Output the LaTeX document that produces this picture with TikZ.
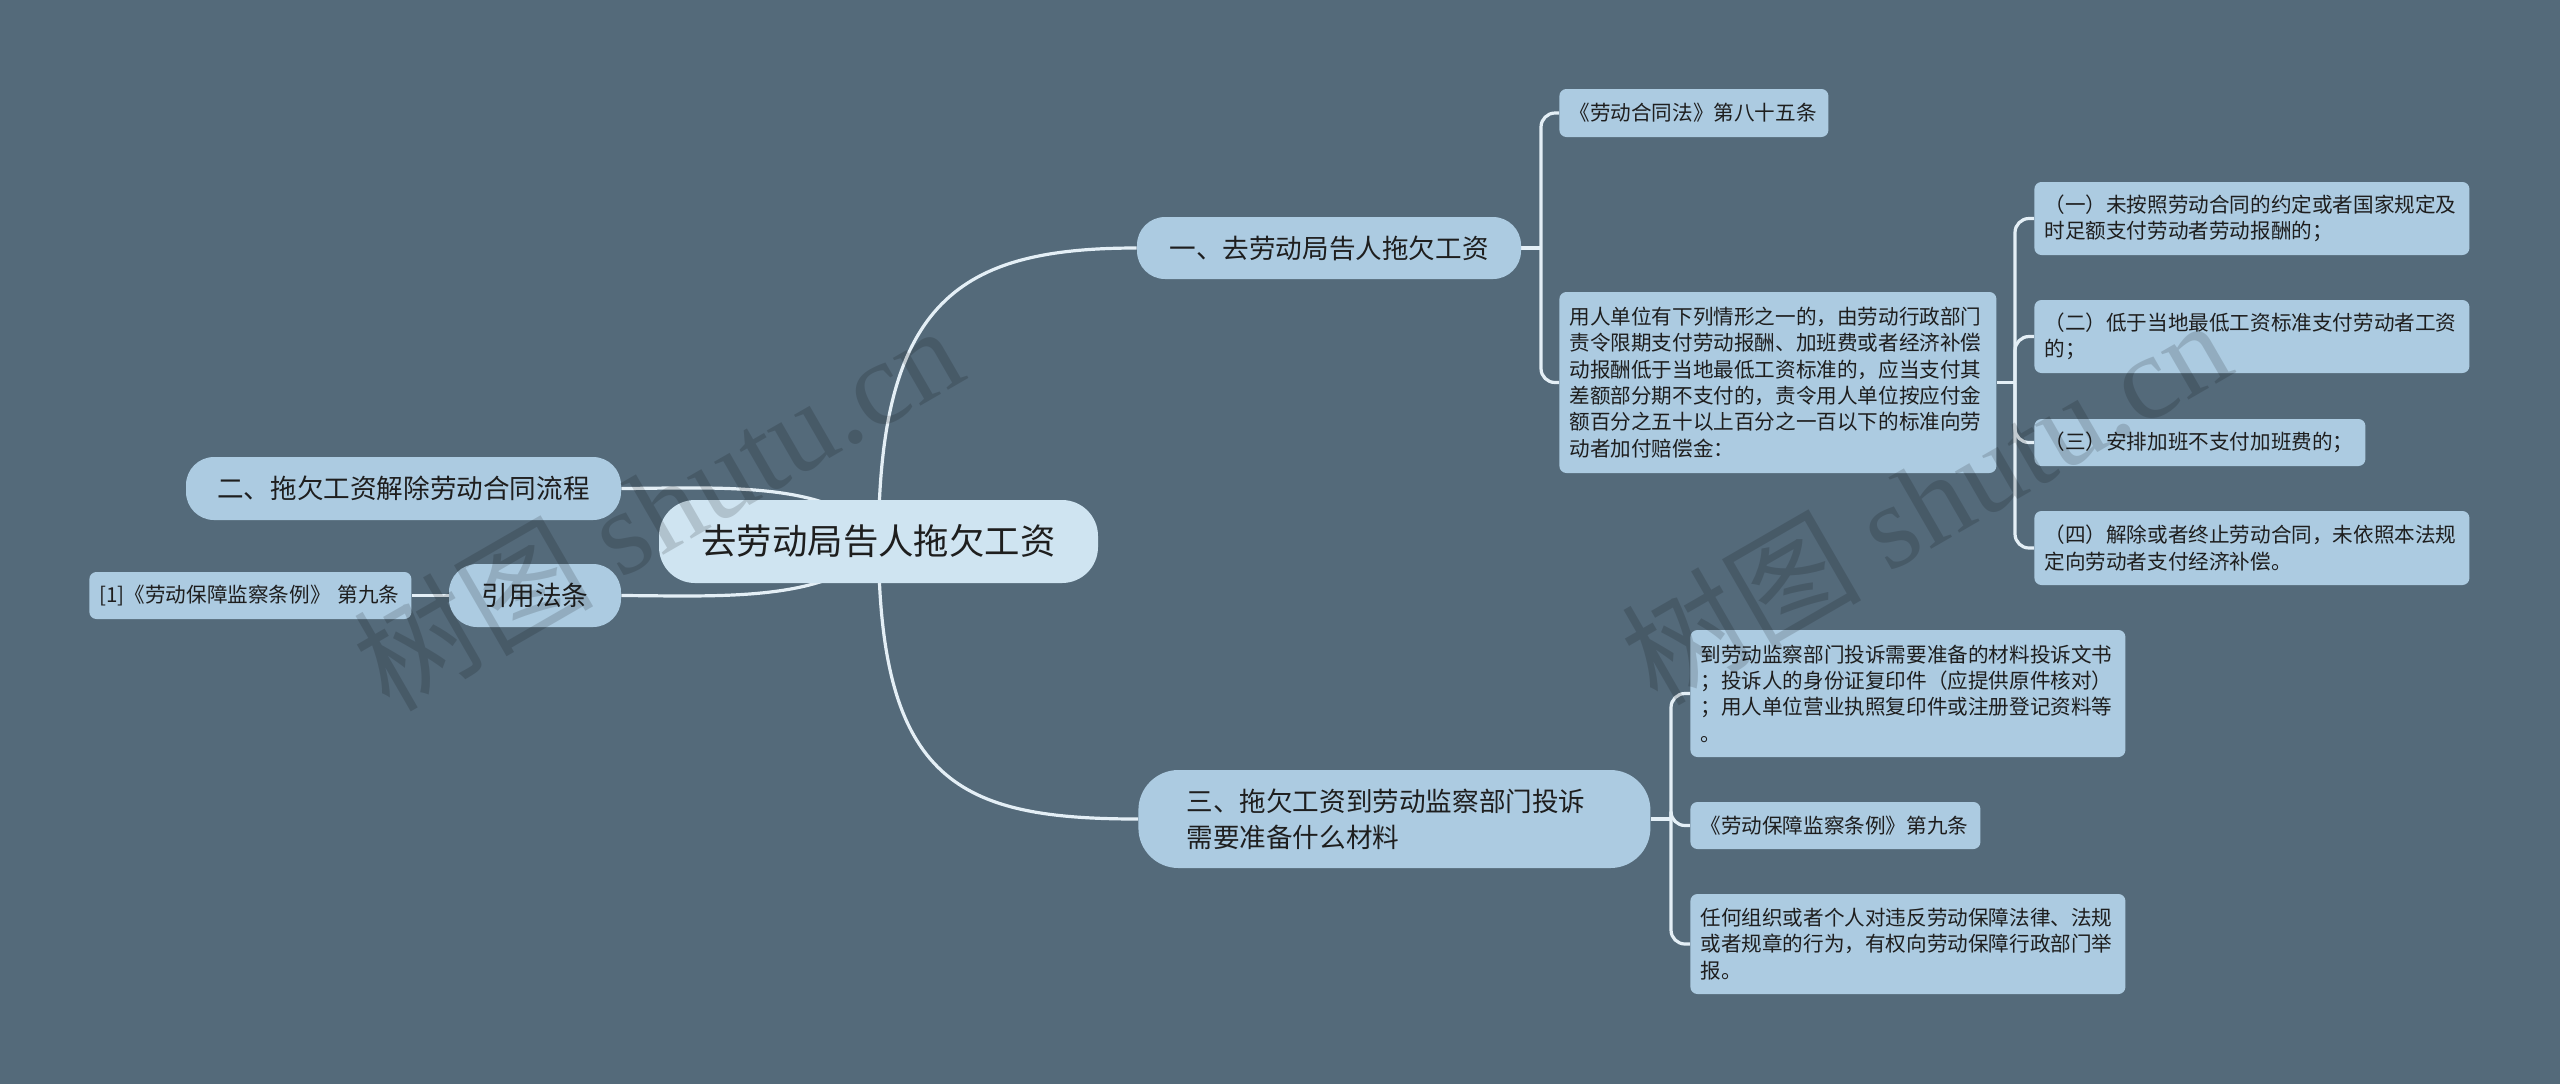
\documentclass[tikz,border=0pt]{standalone}
\usepackage{fontspec}
\setmainfont{Noto Sans CJK SC}
\newfontfamily\wmlatin{Liberation Serif}
\pgfdeclarelayer{bg}
\pgfsetlayers{bg,main}
\definecolor{bgc}{RGB}{84,106,122}
\definecolor{nodec}{RGB}{172,203,225}
\definecolor{centc}{RGB}{207,228,241}
\definecolor{linec}{RGB}{228,239,246}
\definecolor{txtc}{RGB}{30,30,30}
\tikzset{
  box/.style={fill=nodec, text=txtc, anchor=west, align=left, inner ysep=0pt, inner xsep=5pt, rounded corners=3.5pt, font=\fontsize{10.3pt}{13.2pt}\selectfont},
  pill/.style={fill=nodec, text=txtc, anchor=center, align=center, inner sep=0pt, rounded corners=14pt, font=\fontsize{13.3pt}{18pt}\selectfont},
  conn/.style={draw=linec, line width=1.6pt},
  brk/.style={conn, rounded corners=7pt},
  wm/.style={text=black, text opacity=0.15, font=\fontsize{60pt}{60pt}\selectfont, inner sep=0pt},
}
\begin{document}
\begin{tikzpicture}[x=0.5pt,y=-0.5pt]
\useasboundingbox (0,0) rectangle (2560,1084);
\begin{pgfonlayer}{bg}
\fill[bgc] (0,0) rectangle (2560,1084);
\end{pgfonlayer}

% central and main branches
\node[pill, fill=centc, minimum width=219.5pt, minimum height=41.5pt, rounded corners=18pt, font=\fontsize{17.7pt}{20pt}\selectfont] (center) at (878.5,541.5) {去劳动局告人拖欠工资};
\node[pill, minimum width=192pt, minimum height=31pt] (b1) at (1329,248) {一、去劳动局告人拖欠工资};
\node[pill, minimum width=217.5pt, minimum height=31.5pt] (b2) at (403.5,488.5) {二、拖欠工资解除劳动合同流程};
\node[pill, minimum width=86pt, minimum height=31.5pt] (yf) at (535,595.5) {引用法条};
\node[pill, anchor=west, align=left, text width=208pt, inner xsep=24pt, minimum height=49pt, rounded corners=20pt] (b3) at (1138,819) {三、拖欠工资到劳动监察部门投诉\\需要准备什么材料};

% leaf boxes
\node[box, text width=151pt, minimum height=23.5pt] (r1) at (89,595.5) {[1]《劳动保障监察条例》 第九条};
\node[box, text width=124.5pt, minimum height=24pt] (s1) at (1559,113) {《劳动合同法》第八十五条};
\node[box, text width=208.5pt, minimum height=90.5pt] (s2) at (1559,382.5) {用人单位有下列情形之一的，由劳动行政部门\\责令限期支付劳动报酬、加班费或者经济补偿\\动报酬低于当地最低工资标准的，应当支付其\\差额部分期不支付的，责令用人单位按应付金\\额百分之五十以上百分之一百以下的标准向劳\\动者加付赔偿金：};
\node[box, text width=207.5pt, minimum height=36.5pt] (t1) at (2034,218.5) {（一）未按照劳动合同的约定或者国家规定及\\时足额支付劳动者劳动报酬的；};
\node[box, text width=207.5pt, minimum height=36.5pt] (t2) at (2034,336.5) {（二）低于当地最低工资标准支付劳动者工资\\的；};
\node[box, text width=155.5pt, minimum height=23.5pt] (t3) at (2034,442.5) {（三）安排加班不支付加班费的；};
\node[box, text width=207.5pt, minimum height=37pt] (t4) at (2034,548) {（四）解除或者终止劳动合同，未依照本法规\\定向劳动者支付经济补偿。};
\node[box, text width=207.5pt, minimum height=63.5pt] (u1) at (1690,693.5) {到劳动监察部门投诉需要准备的材料投诉文书\\；投诉人的身份证复印件（应提供原件核对）\\；用人单位营业执照复印件或注册登记资料等\\。};
\node[box, text width=135pt, minimum height=23.5pt] (u2) at (1690,825.5) {《劳动保障监察条例》第九条};
\node[box, text width=207.5pt, minimum height=50pt] (u3) at (1690,944) {任何组织或者个人对违反劳动保障法律、法规\\或者规章的行为，有权向劳动保障行政部门举\\报。};

% junction points
\coordinate (j1) at (1541,248);
\coordinate (j2) at (2015,382.5);
\coordinate (j3) at (1671,819);

\begin{pgfonlayer}{bg}
\draw[conn] (center.center) .. controls (879,300) and (960,248) .. (b1.west);
\draw[conn] (center.center) .. controls (879,783) and (960,819) .. (b3.west);
\draw[conn] (center.center) .. controls (840,480) and (720,488) .. (b2.east);
\draw[conn] (center.center) .. controls (840,603) and (720,596) .. (yf.east);
\draw[conn] (yf.west) -- (r1.east);
\draw[conn] (b1.east) -- (j1);
\draw[brk] (s1.west) -| (j1) |- (s2.west);
\draw[conn] (s2.east) -- (j2);
\draw[brk] (t1.west) -| (j2) |- (t4.west);
\draw[brk] (j2) |- (t2.west);
\draw[brk] (j2) |- (t3.west);
\draw[conn] (b3.east) -- (j3);
\draw[brk] (u1.west) -| (j3) |- (u3.west);
\draw[brk] (j3) |- (u2.west);
\end{pgfonlayer}

% watermarks
\node[wm, rotate=30] (wm1) at (657,506) {树图 {\wmlatin shutu.cn}};
\node[wm, rotate=30] (wm2) at (1925,500) {树图 {\wmlatin shutu.cn}};
\end{tikzpicture}
\end{document}
